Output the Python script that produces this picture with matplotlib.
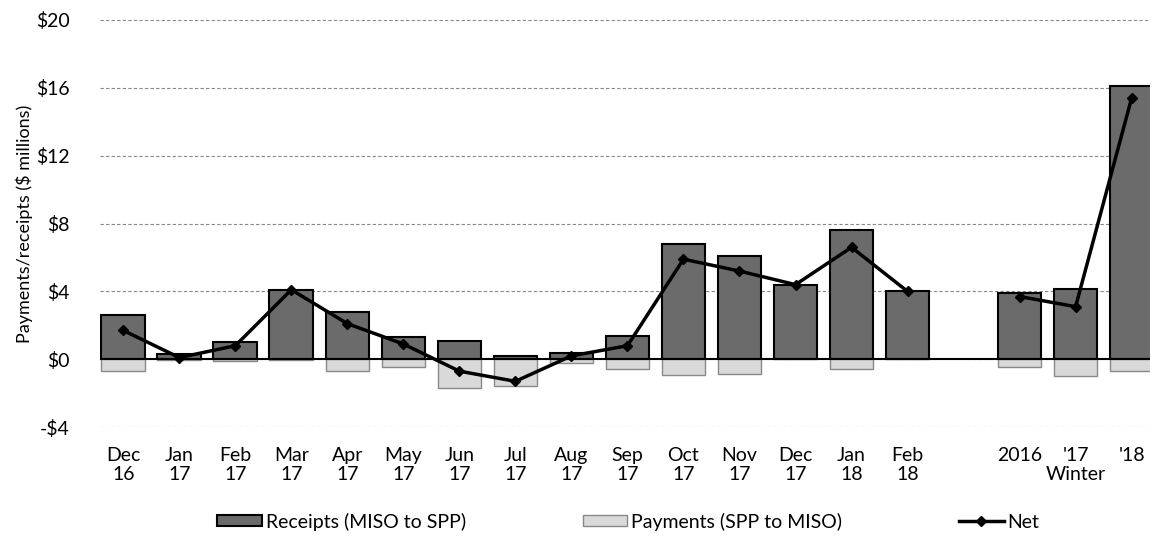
import numpy as np
import matplotlib.pyplot as plt

plt.rcParams['font.family'] = ['Lato', 'DejaVu Sans']

labels = ["Dec\n16", "Jan\n17", "Feb\n17", "Mar\n17", "Apr\n17", "May\n17", "Jun\n17",
          "Jul\n17", "Aug\n17", "Sep\n17", "Oct\n17", "Nov\n17", "Dec\n17", "Jan\n18",
          "Feb\n18", "", "2016", "'17\nWinter", "'18"]
receipts = [2.6, 0.3, 1.0, 4.1, 2.8, 1.3, 1.05, 0.2, 0.35, 1.4, 6.8, 6.1, 4.35, 7.6, 4.0,
            np.nan, 3.9, 4.15, 16.1]
payments = [-0.7, -0.05, -0.1, -0.05, -0.7, -0.45, -1.7, -1.6, -0.2, -0.6, -0.9, -0.85, 0.0,
            -0.6, 0.0, np.nan, -0.45, -1.0, -0.7]
net = [1.7, 0.1, 0.8, 4.1, 2.1, 0.9, -0.7, -1.3, 0.2, 0.8, 5.9, 5.2, 4.4, 6.6, 4.0,
       np.nan, 3.7, 3.1, 15.4]

x = np.arange(len(labels))
monthly = x <= 14
winter = x >= 16

fig = plt.figure(figsize=(11.53, 5.40), dpi=100)
ax = fig.add_axes([0.087, 0.209, 0.91, 0.754])

ax.bar(x, receipts, width=0.78, color="#6b6b6b", edgecolor="black", linewidth=1.5,
       label="Receipts (MISO to SPP)", zorder=2)
ax.bar(x, payments, width=0.78, color="#d9d9d9", edgecolor="#888888", linewidth=1.0,
       label="Payments (SPP to MISO)", zorder=2)

net = np.array(net)
ax.plot(x[monthly], net[monthly], color="black", lw=2.5, marker="D", ms=5, zorder=3,
        label="Net")
ax.plot(x[winter], net[winter], color="black", lw=2.5, marker="D", ms=5, zorder=3)

ax.axhline(0, color="black", lw=1.5, zorder=2.5)
ax.set_ylim(-4, 20)
ax.set_yticks(np.arange(-4, 21, 4))
ax.set_yticklabels([f"-${-v}" if v < 0 else f"${v}" for v in range(-4, 21, 4)])
ax.grid(axis="y", color="#888888", ls=(0, (3, 2)), lw=0.8, zorder=0)
ax.set_xlim(-0.41, 18.32)
ax.set_xticks(x)
ax.set_xticklabels(labels, linespacing=1.15)
ax.tick_params(axis="both", length=0, labelsize=14)
ax.tick_params(axis="y", pad=22)
ax.tick_params(axis="x", pad=14)
for s in ax.spines.values():
    s.set_visible(False)
ax.set_ylabel("Payments/receipts ($ millions)", fontsize=13, labelpad=2)

handles, leg_labels = ax.get_legend_handles_labels()
order = [1, 2, 0]
fig.legend([handles[i] for i in order], [leg_labels[i] for i in order],
           loc="lower center", bbox_to_anchor=(0.545, -0.015), ncol=3, frameon=False,
           fontsize=14, columnspacing=6, handlelength=2.3, handleheight=0.5,
           handletextpad=0.2)

fig.savefig("out.png", dpi=100)
